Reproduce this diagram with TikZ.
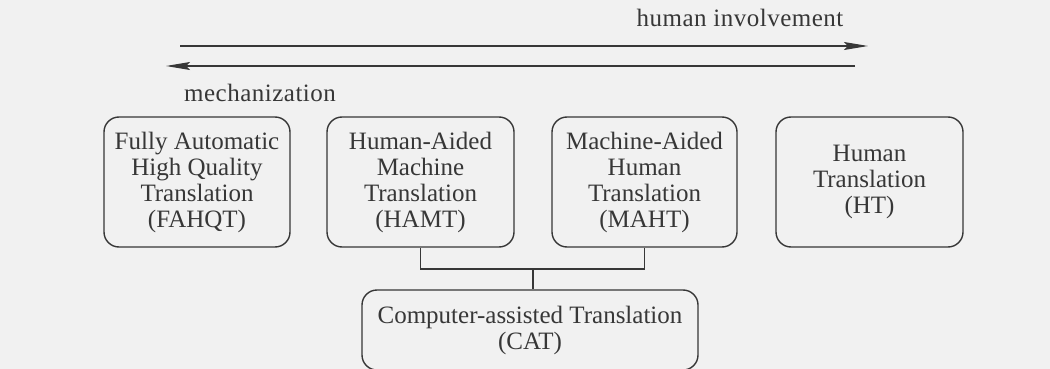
\documentclass[tikz,border=0pt]{standalone}
\usepackage{fontspec}
\setmainfont{Liberation Serif}
\usetikzlibrary{arrows.meta}
\definecolor{ink}{RGB}{55,55,55}
\definecolor{paper}{RGB}{241,241,241}
\begin{document}
\begin{tikzpicture}[x=1pt,y=-1pt,
  every node/.style={text=ink},
  tbox/.style={draw=ink, line width=1.4pt, rounded corners=15pt, align=center,
    inner sep=0pt, font=\fontsize{25}{26}\selectfont},
  lbl/.style={font=\fontsize{25}{26}\selectfont, anchor=base, inner sep=0pt},
  conn/.style={draw=ink, line width=1.4pt},
  arr/.style={draw=ink, line width=1.4pt, -{Stealth[length=24pt,width=8pt,inset=4pt]}}]
\fill[paper] (0,0) rectangle (1050,369);
\useasboundingbox (0,0) rectangle (1050,369);

\node[lbl] (hi) at (740,27) {h\kern0.5pt u\kern0.5pt m\kern0.5pt a\kern0.5pt n\kern0.5pt\ i\kern0.5pt n\kern0.5pt v\kern0.5pt o\kern0.5pt l\kern0.5pt v\kern0.5pt e\kern0.5pt m\kern0.5pt e\kern0.5pt n\kern0.5pt t};
\node[lbl] (mech) at (260,101) {m\kern0.5pt e\kern0.5pt c\kern0.5pt h\kern0.5pt a\kern0.5pt n\kern0.5pt i\kern0.5pt z\kern0.5pt a\kern0.5pt t\kern0.5pt i\kern0.5pt o\kern0.5pt n};

\coordinate (a1s) at (180,46);
\coordinate (a1e) at (868,46);
\coordinate (a2s) at (855,66);
\coordinate (a2e) at (166,66);
\draw[arr] (a1s) -- (a1e);
\draw[arr] (a2s) -- (a2e);

\node[tbox, minimum width=186pt, minimum height=130pt] (fahqt) at (197,182)
  {Fully Automatic\\High Quality\\Translation\\(FAHQT)};
\node[tbox, minimum width=187pt, minimum height=130pt] (hamt) at (420.5,182)
  {Human-Aided\\Machine\\Translation\\(HAMT)};
\node[tbox, minimum width=185pt, minimum height=130pt] (maht) at (644.5,182)
  {Machine-Aided\\Human\\Translation\\(MAHT)};
\node[tbox, minimum width=187pt, minimum height=130pt] (ht) at (869.5,182)
  {Human\\Translation\\(HT)};
\node[tbox, minimum width=336pt, minimum height=80pt] (cat) at (530,330)
  {Computer-assisted Translation\\(CAT)};

\coordinate (j) at (533,269);
\draw[conn] (hamt.south) -- (hamt.south |- j) -- (maht.south |- j) -- (maht.south);
\draw[conn] (j) -- (j |- cat.north);
\end{tikzpicture}
\end{document}
